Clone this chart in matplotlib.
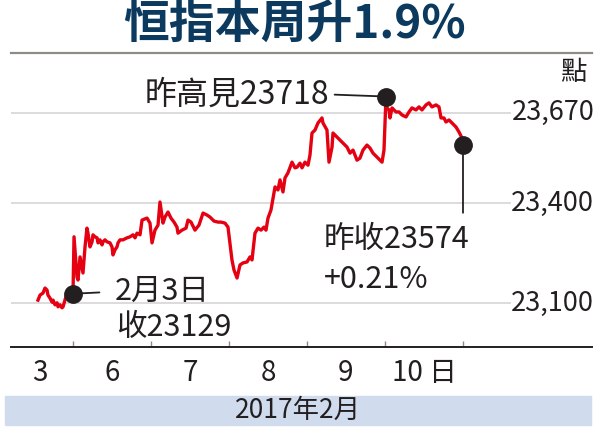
import numpy as np
import matplotlib.pyplot as plt
from matplotlib.patches import Rectangle

plt.rcParams['font.family'] = ['Liberation Sans Narrow', 'Noto Sans CJK TC', 'DejaVu Sans']

# =========================
# Data (x = trading-day position, Feb 3 ends at 1, Feb 10 ends at 6)
# =========================
day_labels = ['3', '6', '7', '8', '9', '10 日']
day_label_pos = [0.58, 1.5, 2.5, 3.5, 4.5, 5.5]
day_bounds = [1, 2, 3, 4, 5, 6]

feb3_t = [0.551, 0.577, 0.615, 0.641, 0.667, 0.679, 0.705, 0.731, 0.744, 0.769,
          0.795, 0.808, 0.833, 0.859, 0.872, 0.897, 0.923, 0.962, 1.0]
feb3_v = [23110, 23125, 23131, 23146, 23140, 23125, 23116, 23104, 23110, 23096,
          23102, 23090, 23096, 23087, 23090, 23110, 23131, 23140, 23129]

feb6_t = [1.013, 1.051, 1.064, 1.090, 1.128, 1.154, 1.179, 1.192, 1.218, 1.244,
          1.256, 1.282, 1.308, 1.321, 1.346, 1.372, 1.385, 1.410, 1.436, 1.474,
          1.500, 1.513, 1.538, 1.564, 1.577, 1.603, 1.641, 1.692, 1.731, 1.769,
          1.795, 1.821, 1.859, 1.885, 1.949, 1.987]
feb6_v = [23299, 23179, 23170, 23239, 23191, 23269, 23325, 23310, 23269, 23284,
          23305, 23299, 23296, 23281, 23290, 23275, 23284, 23290, 23284, 23281,
          23269, 23245, 23260, 23269, 23281, 23290, 23290, 23296, 23299, 23305,
          23296, 23310, 23305, 23349, 23355, 23340]

feb7_t = [2.013, 2.051, 2.090, 2.115, 2.154, 2.179, 2.218, 2.256, 2.295, 2.333,
          2.346, 2.397, 2.449, 2.474, 2.513, 2.564, 2.615, 2.628, 2.667, 2.718,
          2.756, 2.808, 2.859, 2.897, 2.949, 2.987]
feb7_v = [23281, 23319, 23334, 23403, 23340, 23358, 23373, 23355, 23343, 23328,
          23310, 23319, 23325, 23349, 23343, 23319, 23334, 23343, 23370, 23364,
          23358, 23346, 23343, 23343, 23340, 23328]

feb8_t = [3.038, 3.064, 3.103, 3.141, 3.179, 3.231, 3.269, 3.295, 3.333, 3.372,
          3.410, 3.449, 3.474, 3.500, 3.538, 3.590, 3.628, 3.654, 3.692, 3.718,
          3.756, 3.808, 3.846, 3.872, 3.910, 3.936, 3.974]
feb8_v = [23230, 23200, 23176, 23215, 23221, 23224, 23239, 23230, 23310, 23325,
          23319, 23328, 23319, 23355, 23379, 23448, 23439, 23469, 23433, 23475,
          23490, 23522, 23505, 23507, 23519, 23505, 23522]

feb9_t = [4.013, 4.038, 4.064, 4.103, 4.141, 4.192, 4.205, 4.256, 4.282, 4.321,
          4.333, 4.385, 4.423, 4.462, 4.513, 4.551, 4.590, 4.641, 4.679, 4.718,
          4.769, 4.808, 4.846, 4.910, 4.962, 4.987]
feb9_v = [23513, 23543, 23609, 23618, 23639, 23654, 23639, 23618, 23522, 23567,
          23609, 23597, 23588, 23579, 23567, 23549, 23558, 23528, 23534, 23558,
          23573, 23564, 23549, 23534, 23522, 23558]

feb10_t = [5.013, 5.026, 5.051, 5.064, 5.090, 5.141, 5.179, 5.218, 5.269, 5.308,
           5.346, 5.397, 5.436, 5.474, 5.526, 5.564, 5.603, 5.654, 5.692, 5.718,
           5.756, 5.782, 5.821, 5.859, 5.910, 5.949, 5.987, 6.0]
feb10_v = [23718, 23684, 23678, 23654, 23684, 23672, 23672, 23663, 23657, 23672,
           23684, 23678, 23687, 23678, 23693, 23699, 23687, 23693, 23687, 23654,
           23654, 23642, 23648, 23639, 23627, 23612, 23594, 23574]

y_ticks = [23100, 23400, 23670]
y_tick_labels = ['23,100', '23,400', '23,670']

feb3_close = (1.0, 23129)
week_high = (5.013, 23718)
last_close = (6.0, 23574)

t = np.concatenate([feb3_t, feb6_t, feb7_t, feb8_t, feb9_t, feb10_t])
v = np.concatenate([feb3_v, feb6_v, feb7_v, feb8_v, feb9_v, feb10_v])

dark = '#231f20'

# =========================
# Figure
# =========================
fig = plt.figure(figsize=(6, 4.28), dpi=100)
ax = fig.add_axes([11 / 600, 1 - 347 / 428, 581 / 600, 294 / 428])
ax.set_xlim(0.205, 7.654)
ax.set_ylim(22970, 23848)

for s in ['left', 'right']:
    ax.spines[s].set_visible(False)
ax.spines['top'].set_color('#8f8a86')
ax.spines['top'].set_linewidth(1.6)
ax.spines['bottom'].set_color(dark)
ax.spines['bottom'].set_linewidth(1.4)

ax.set_yticks([])
ax.set_xticks(day_bounds)
ax.set_xticklabels([])
ax.tick_params(axis='x', which='major', direction='in', length=4, width=1, color='#8f8a86')
ax.set_xticks(day_label_pos, minor=True)
ax.set_xticklabels(day_labels, minor=True, fontsize=20, color=dark)
ax.tick_params(axis='x', which='minor', length=0, pad=8)

for yv, lab in zip(y_ticks, y_tick_labels):
    ax.axhline(yv, xmin=0, xmax=0.859, color='#d9d9d9', lw=1.3, zorder=1)
    ax.text(1.004, yv, lab, transform=ax.get_yaxis_transform(), ha='right',
            va='center', fontsize=19.5, color=dark)

ax.plot(t, v, color='#e50012', lw=2.4, zorder=3)

# markers and callouts
for pt in [feb3_close, week_high, last_close]:
    ax.plot(*pt, 'o', color=dark, markersize=12.5, zorder=5)

ax.annotate('昨高見23718', xy=week_high, xytext=(-41, 1.5), textcoords='offset points',
            ha='right', va='center', fontsize=23, color=dark,
            arrowprops=dict(arrowstyle='-', color=dark, lw=1.3, shrinkA=2, shrinkB=0,
                            relpos=(1, 0.5)))

ax.annotate('2月3日', xy=feb3_close, xytext=(30, 1.5), textcoords='offset points',
            ha='left', va='center', fontsize=22, color=dark,
            arrowprops=dict(arrowstyle='-', color=dark, lw=1.3, shrinkA=9, shrinkB=0,
                            relpos=(0, 0.5)))
ax.annotate('收23129', xy=feb3_close, xytext=(31, -24.5), textcoords='offset points',
            ha='left', va='center', fontsize=22, color=dark)

ax.annotate('', xy=last_close, xytext=(0, -49), textcoords='offset points',
            arrowprops=dict(arrowstyle='-', color=dark, lw=1.3, shrinkA=0, shrinkB=0))
ax.annotate('昨收23574', xy=last_close, xytext=(-100, -68), textcoords='offset points',
            ha='left', va='center', fontsize=22, color=dark)
ax.annotate('+0.21%', xy=last_close, xytext=(-100, -97), textcoords='offset points',
            ha='left', va='center', fontsize=22, color=dark)

# title, unit, bottom band
fig.text(0.49, 1 - 25 / 428, '恒指本周升1.9%', ha='center', va='center', fontsize=33,
         fontweight='bold', color='#0b3a5e', family='Noto Sans CJK TC')
fig.text(573 / 600, 1 - 72 / 428, '點', ha='center', va='center', fontsize=19,
         color=dark, family='Noto Sans CJK TC')

fig.patches.append(Rectangle((5 / 600, 1 - 425 / 428), 586 / 600, 29 / 428,
                             transform=fig.transFigure, color='#d0dcee', zorder=0))
fig.text(298 / 600, 1 - 410 / 428, '2017年2月', ha='center', va='center', fontsize=19,
         color=dark)

fig.savefig('out.png', dpi=100)
